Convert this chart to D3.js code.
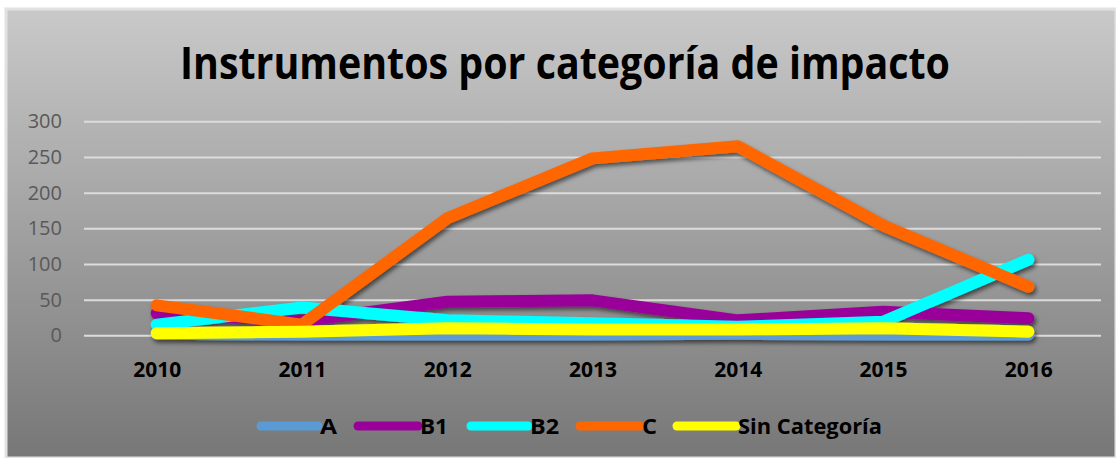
<!DOCTYPE html>
<html>
<head>
<meta charset="utf-8">
<script src="https://cdn.jsdelivr.net/npm/d3@7"></script>
<style>
  body { margin: 0; background: #fff; }
  svg { display: block; font-family: "Open Sans", sans-serif; }
</style>
</head>
<body>
<script>
// chart data
const years = ["2010", "2011", "2012", "2013", "2014", "2015", "2016"];
const seriesNames = ["A", "B1", "B2", "C", "Sin Categoría"];
const seriesColors = ["#5b9bd5", "#990099", "#00ffff", "#ff6600", "#ffff00"];
const valuesA = [2, 1, 1, 1, 2, 1, 1];
const valuesB1 = [31, 20, 47, 49, 21, 33, 24];
const valuesB2 = [15, 39, 21, 17, 12, 19, 106];
const valuesC = [42, 15, 164, 248, 265, 154, 68];
const valuesSin = [3, 5, 10, 8, 8, 10, 5];
const yTicks = [0, 50, 100, 150, 200, 250, 300];

const allValues = [valuesA, valuesB1, valuesB2, valuesC, valuesSin];
const series = seriesNames.map((name, i) => ({ name, color: seriesColors[i], values: allValues[i] }));

const W = 1116, H = 458;
const svg = d3.select("body").append("svg").attr("width", W).attr("height", H);

const defs = svg.append("defs");
const grad = defs.append("linearGradient").attr("id", "bg").attr("x1", 0).attr("y1", 0).attr("x2", 0).attr("y2", 1);
grad.append("stop").attr("offset", "0%").attr("stop-color", "#c9c9c9");
grad.append("stop").attr("offset", "100%").attr("stop-color", "#777777");

const shadow = defs.append("filter").attr("id", "shadow")
  .attr("x", "-10%").attr("y", "-10%").attr("width", "120%").attr("height", "130%");
shadow.append("feDropShadow").attr("dx", 2).attr("dy", 3).attr("stdDeviation", 2)
  .attr("flood-color", "#000").attr("flood-opacity", 0.55);

// background panel
svg.append("rect").attr("x", 6).attr("y", 9).attr("width", W - 6).attr("height", H - 9)
  .attr("fill", "url(#bg)").attr("stroke", "#e2e2e2").attr("stroke-width", 3);

// title
svg.append("text").attr("x", 565).attr("y", 79).attr("text-anchor", "middle")
  .attr("font-size", 44).attr("font-weight", 700).attr("fill", "#000")
  .attr("textLength", 770).attr("lengthAdjust", "spacingAndGlyphs")
  .text("Instrumentos por categoría de impacto");

// scales
const x = d3.scalePoint().domain(years).range([84, 1101]).padding(0.5);
const y = d3.scaleLinear().domain([0, 300]).range([335.3, 121.3]);

// y grid + labels
const yAxis = svg.append("g").attr("transform", "translate(84,0)")
  .call(d3.axisLeft(y).tickValues(yTicks).tickSize(-(1101 - 84)).tickPadding(22));
yAxis.select(".domain").remove();
yAxis.selectAll(".tick line").attr("stroke", "#dcdcdc").attr("stroke-width", 2);
yAxis.selectAll(".tick text").attr("fill", "#595959").attr("font-size", 20)
  .attr("font-family", "Open Sans, sans-serif");

// x labels
const xAxis = svg.append("g").attr("transform", "translate(0,340)")
  .call(d3.axisBottom(x).tickSize(0).tickPadding(0));
xAxis.select(".domain").remove();
xAxis.selectAll(".tick text").attr("fill", "#000").attr("font-size", 21).attr("font-weight", 700)
  .attr("font-family", "Open Sans, sans-serif").attr("dy", "1.75em");

// lines
const line = d3.line().x((d, i) => x(years[i])).y(d => y(d));
svg.append("g").attr("filter", "url(#shadow)")
  .selectAll("path").data(series).join("path")
  .attr("d", d => line(d.values))
  .attr("fill", "none").attr("stroke", d => d.color)
  .attr("stroke-width", 12).attr("stroke-linecap", "round").attr("stroke-linejoin", "round");

// legend
const legendX = [261, 358, 471, 580, 677];
const legendW = [57, 60, 57, 60, 59];
const legendTextW = [17, 28, 29, 15, 144];
const leg = svg.append("g").selectAll("g").data(series).join("g")
  .attr("transform", (d, i) => `translate(${legendX[i]},426)`);
leg.append("line").attr("x1", 0).attr("x2", (d, i) => legendW[i]).attr("y1", 0).attr("y2", 0)
  .attr("stroke", d => d.color).attr("stroke-width", 9).attr("stroke-linecap", "round");
leg.append("text").attr("x", (d, i) => legendW[i] + 2).attr("y", 7.5)
  .attr("font-size", 21).attr("font-weight", 700).attr("fill", "#000")
  .attr("textLength", (d, i) => legendTextW[i]).attr("lengthAdjust", "spacingAndGlyphs")
  .text(d => d.name);
</script>
</body>
</html>
